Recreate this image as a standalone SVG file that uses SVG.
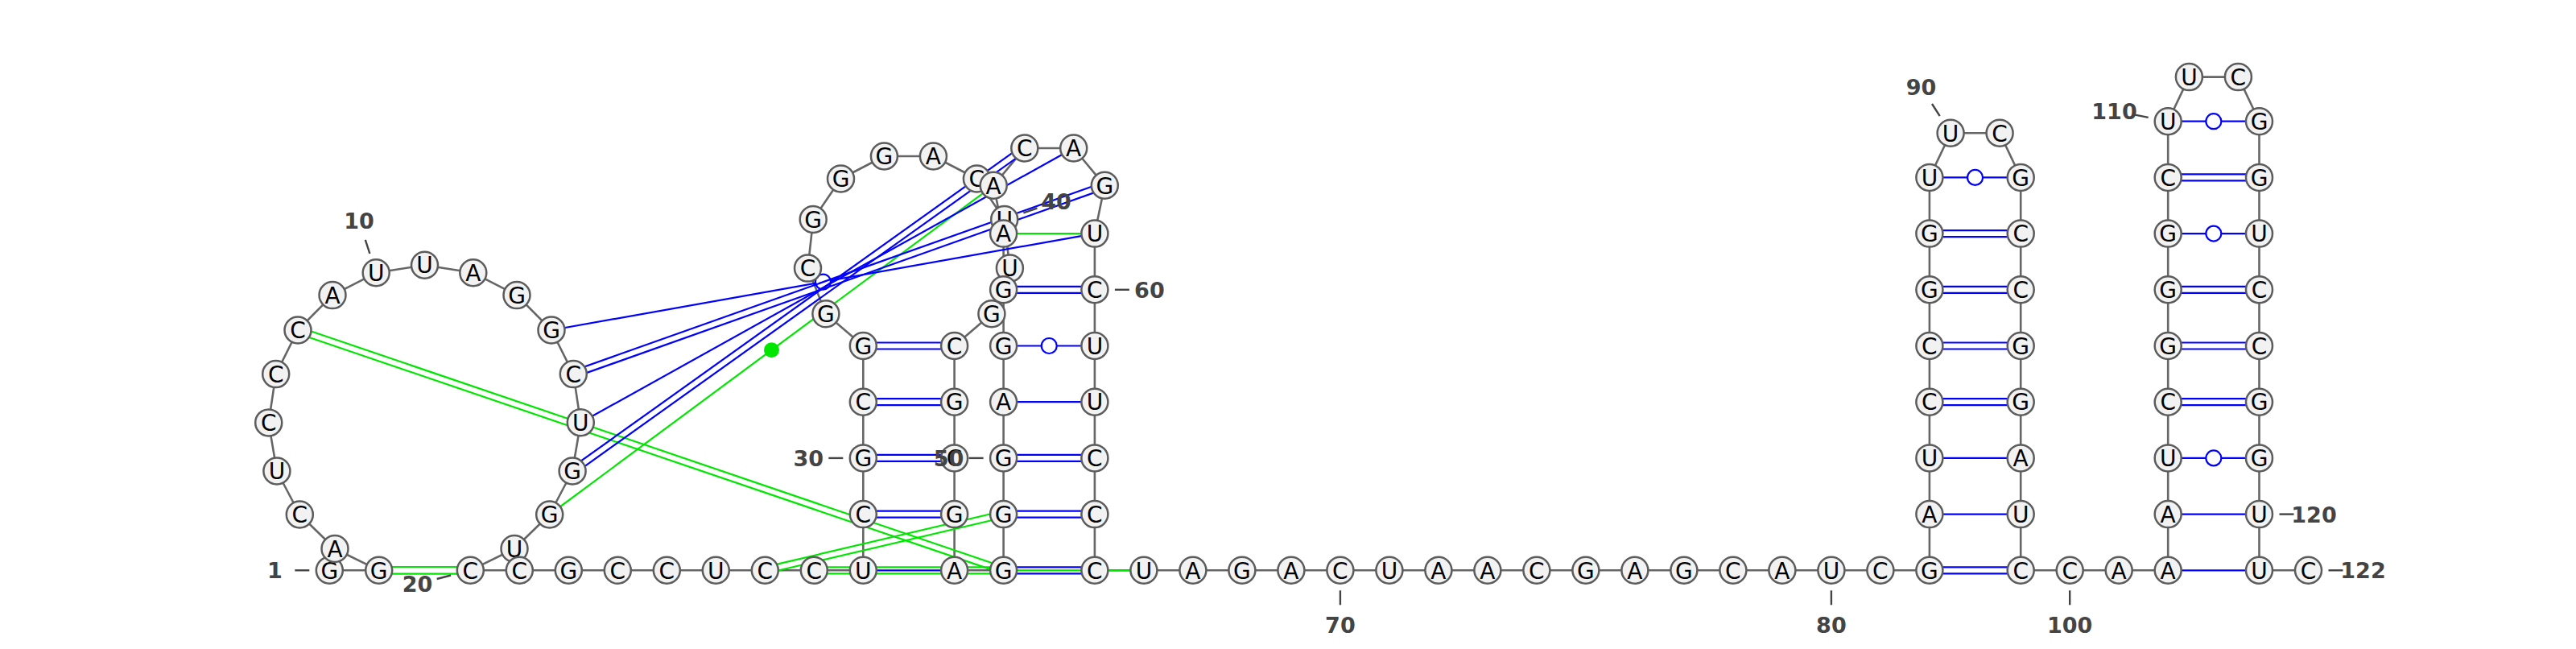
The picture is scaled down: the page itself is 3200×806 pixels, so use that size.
<svg xmlns="http://www.w3.org/2000/svg" width="3200" height="806" viewBox="0 0 3200 806">
<style>
.bb{fill:none;stroke:#666;stroke-width:2.6;stroke-linejoin:round}
.pb{stroke:#0000ff;stroke-width:2.2;fill:none}
.pg{stroke:#00e600;stroke-width:2.2;fill:none}
.wob{fill:#fff;stroke:#0000ff;stroke-width:2.2}
.dot{fill:#00e600}
.n circle{fill:#f2f2f2;stroke:#5c5c5c;stroke-width:2.5}
.n text{font-family:"DejaVu Sans",sans-serif;font-size:28px;text-anchor:middle;fill:#000}
.lab text{font-family:"DejaVu Sans",sans-serif;font-size:27px;font-weight:bold;fill:#444;text-anchor:middle}
.lab line{stroke:#444;stroke-width:2.4}
</style>
<rect width="3200" height="806" fill="#fff"/>
<g id="connectors">
<polyline class="bb" points="409.3,708.3 470.7,708.3 416.0,681.5 372.3,639.0 343.9,585.0 333.7,524.9 342.7,464.6 370.0,410.0 413.0,366.6 467.2,338.8 527.5,329.2 587.8,338.8 642.0,366.6 685.0,410.0 712.3,464.6 721.3,524.8 711.1,585.0 682.7,639.0 639.0,681.5 584.3,708.3 645.3,708.3 706.3,708.3 767.3,708.3 828.3,708.3 889.3,708.3 950.3,708.3 1011.3,708.3 1072.3,708.3 1072.3,638.6 1072.3,568.9 1072.3,499.2 1072.3,429.5 1025.9,389.8 1003.5,333.1 1010.2,272.5 1044.5,222.0 1098.4,194.0 1159.4,194.0 1213.4,222.0 1247.7,272.5 1254.4,333.1 1231.9,389.8 1185.6,429.5 1185.6,499.2 1185.6,568.9 1185.6,638.6 1185.6,708.3 1246.6,708.3 1246.6,638.6 1246.6,568.9 1246.6,499.2 1246.6,429.5 1246.6,359.8 1246.6,290.1 1234.2,230.3 1272.8,184.0 1333.7,184.0 1372.3,230.3 1359.9,290.1 1359.9,359.8 1359.9,429.5 1359.9,499.2 1359.9,568.9 1359.9,638.6 1359.9,708.3 1420.9,708.3 1481.9,708.3 1542.9,708.3 1603.9,708.3 1664.9,708.3 1725.9,708.3 1786.9,708.3 1847.9,708.3 1908.9,708.3 1969.9,708.3 2030.9,708.3 2091.9,708.3 2152.9,708.3 2213.9,708.3 2274.9,708.3 2335.9,708.3 2396.9,708.3 2396.9,638.6 2396.9,568.9 2396.9,499.2 2396.9,429.5 2396.9,359.8 2396.9,290.1 2396.9,220.4 2423.1,165.3 2484.1,165.3 2510.2,220.4 2510.2,290.1 2510.2,359.8 2510.2,429.5 2510.2,499.2 2510.2,568.9 2510.2,638.6 2510.2,708.3 2571.2,708.3 2632.2,708.3 2693.2,708.3 2693.2,638.6 2693.2,568.9 2693.2,499.2 2693.2,429.5 2693.2,359.8 2693.2,290.1 2693.2,220.4 2693.2,150.7 2719.4,95.6 2780.4,95.6 2806.5,150.7 2806.5,220.4 2806.5,290.1 2806.5,359.8 2806.5,429.5 2806.5,499.2 2806.5,568.9 2806.5,638.6 2806.5,708.3 2867.5,708.3"/>
<line class="pg" x1="470.7" y1="704.0" x2="584.3" y2="704.0"/>
<line class="pg" x1="470.7" y1="712.6" x2="584.3" y2="712.6"/>
<line class="pg" x1="368.7" y1="413.8" x2="1245.3" y2="712.1"/>
<line class="pg" x1="371.3" y1="406.2" x2="1247.9" y2="704.5"/>
<line class="pg" x1="951.2" y1="712.2" x2="1247.5" y2="642.5"/>
<line class="pg" x1="949.4" y1="704.4" x2="1245.7" y2="634.7"/>
<line class="pg" x1="1011.3" y1="704.3" x2="1246.6" y2="704.3"/>
<line class="pg" x1="1011.3" y1="712.3" x2="1246.6" y2="712.3"/>
<line class="pg" x1="1246.6" y1="708.3" x2="1420.9" y2="708.3"/>
<line class="pg" x1="1246.6" y1="290.1" x2="1359.9" y2="290.1"/>
<line class="pg" x1="682.7" y1="639.0" x2="1234.2" y2="230.3"/>
<circle class="dot" cx="958.45" cy="434.65" r="9.5"/>
<line class="pb" x1="685.0" y1="410.0" x2="1359.9" y2="290.1"/>
<circle class="wob" cx="1022.45" cy="350.05" r="9.5"/>
<line class="pb" x1="713.6" y1="468.4" x2="1373.6" y2="234.1"/>
<line class="pb" x1="711.0" y1="460.8" x2="1371.0" y2="226.5"/>
<line class="pb" x1="721.3" y1="524.8" x2="1333.7" y2="184.0"/>
<line class="pb" x1="713.4" y1="588.3" x2="1275.1" y2="187.3"/>
<line class="pb" x1="708.8" y1="581.7" x2="1270.5" y2="180.7"/>
<line class="pb" x1="1072.3" y1="708.3" x2="1185.6" y2="708.3"/>
<line class="pb" x1="1072.3" y1="634.6" x2="1185.6" y2="634.6"/>
<line class="pb" x1="1072.3" y1="642.6" x2="1185.6" y2="642.6"/>
<line class="pb" x1="1072.3" y1="564.9" x2="1185.6" y2="564.9"/>
<line class="pb" x1="1072.3" y1="572.9" x2="1185.6" y2="572.9"/>
<line class="pb" x1="1072.3" y1="495.2" x2="1185.6" y2="495.2"/>
<line class="pb" x1="1072.3" y1="503.2" x2="1185.6" y2="503.2"/>
<line class="pb" x1="1072.3" y1="425.5" x2="1185.6" y2="425.5"/>
<line class="pb" x1="1072.3" y1="433.5" x2="1185.6" y2="433.5"/>
<line class="pb" x1="1246.6" y1="704.3" x2="1359.9" y2="704.3"/>
<line class="pb" x1="1246.6" y1="712.3" x2="1359.9" y2="712.3"/>
<line class="pb" x1="1246.6" y1="634.6" x2="1359.9" y2="634.6"/>
<line class="pb" x1="1246.6" y1="642.6" x2="1359.9" y2="642.6"/>
<line class="pb" x1="1246.6" y1="564.9" x2="1359.9" y2="564.9"/>
<line class="pb" x1="1246.6" y1="572.9" x2="1359.9" y2="572.9"/>
<line class="pb" x1="1246.6" y1="499.2" x2="1359.9" y2="499.2"/>
<line class="pb" x1="1246.6" y1="429.5" x2="1359.9" y2="429.5"/>
<circle class="wob" cx="1303.25" cy="429.5" r="9.5"/>
<line class="pb" x1="1246.6" y1="355.8" x2="1359.9" y2="355.8"/>
<line class="pb" x1="1246.6" y1="363.8" x2="1359.9" y2="363.8"/>
<line class="pb" x1="2396.9" y1="704.3" x2="2510.2" y2="704.3"/>
<line class="pb" x1="2396.9" y1="712.3" x2="2510.2" y2="712.3"/>
<line class="pb" x1="2396.9" y1="638.6" x2="2510.2" y2="638.6"/>
<line class="pb" x1="2396.9" y1="568.9" x2="2510.2" y2="568.9"/>
<line class="pb" x1="2396.9" y1="495.2" x2="2510.2" y2="495.2"/>
<line class="pb" x1="2396.9" y1="503.2" x2="2510.2" y2="503.2"/>
<line class="pb" x1="2396.9" y1="425.5" x2="2510.2" y2="425.5"/>
<line class="pb" x1="2396.9" y1="433.5" x2="2510.2" y2="433.5"/>
<line class="pb" x1="2396.9" y1="355.8" x2="2510.2" y2="355.8"/>
<line class="pb" x1="2396.9" y1="363.8" x2="2510.2" y2="363.8"/>
<line class="pb" x1="2396.9" y1="286.1" x2="2510.2" y2="286.1"/>
<line class="pb" x1="2396.9" y1="294.1" x2="2510.2" y2="294.1"/>
<line class="pb" x1="2396.9" y1="220.4" x2="2510.2" y2="220.4"/>
<circle class="wob" cx="2453.55" cy="220.4" r="9.5"/>
<line class="pb" x1="2693.2" y1="708.3" x2="2806.5" y2="708.3"/>
<line class="pb" x1="2693.2" y1="638.6" x2="2806.5" y2="638.6"/>
<line class="pb" x1="2693.2" y1="568.9" x2="2806.5" y2="568.9"/>
<circle class="wob" cx="2749.85" cy="568.9" r="9.5"/>
<line class="pb" x1="2693.2" y1="495.2" x2="2806.5" y2="495.2"/>
<line class="pb" x1="2693.2" y1="503.2" x2="2806.5" y2="503.2"/>
<line class="pb" x1="2693.2" y1="425.5" x2="2806.5" y2="425.5"/>
<line class="pb" x1="2693.2" y1="433.5" x2="2806.5" y2="433.5"/>
<line class="pb" x1="2693.2" y1="355.8" x2="2806.5" y2="355.8"/>
<line class="pb" x1="2693.2" y1="363.8" x2="2806.5" y2="363.8"/>
<line class="pb" x1="2693.2" y1="290.1" x2="2806.5" y2="290.1"/>
<circle class="wob" cx="2749.85" cy="290.1" r="9.5"/>
<line class="pb" x1="2693.2" y1="216.4" x2="2806.5" y2="216.4"/>
<line class="pb" x1="2693.2" y1="224.4" x2="2806.5" y2="224.4"/>
<line class="pb" x1="2693.2" y1="150.7" x2="2806.5" y2="150.7"/>
<circle class="wob" cx="2749.85" cy="150.7" r="9.5"/>
</g>
<g id="nodes">
<g id="n1" class="n"><circle cx="409.3" cy="708.3" r="16.5"/><text x="409.3" y="718.5">G</text></g>
<g id="n2" class="n"><circle cx="470.7" cy="708.3" r="16.5"/><text x="470.7" y="718.5">G</text></g>
<g id="n3" class="n"><circle cx="416.0" cy="681.5" r="16.5"/><text x="416.0" y="691.7">A</text></g>
<g id="n4" class="n"><circle cx="372.3" cy="639.0" r="16.5"/><text x="372.3" y="649.2">C</text></g>
<g id="n5" class="n"><circle cx="343.9" cy="585.0" r="16.5"/><text x="343.9" y="595.2">U</text></g>
<g id="n6" class="n"><circle cx="333.7" cy="524.9" r="16.5"/><text x="333.7" y="535.1">C</text></g>
<g id="n7" class="n"><circle cx="342.7" cy="464.6" r="16.5"/><text x="342.7" y="474.8">C</text></g>
<g id="n8" class="n"><circle cx="370.0" cy="410.0" r="16.5"/><text x="370.0" y="420.2">C</text></g>
<g id="n9" class="n"><circle cx="413.0" cy="366.6" r="16.5"/><text x="413.0" y="376.8">A</text></g>
<g id="n10" class="n"><circle cx="467.2" cy="338.8" r="16.5"/><text x="467.2" y="349.0">U</text></g>
<g id="n11" class="n"><circle cx="527.5" cy="329.2" r="16.5"/><text x="527.5" y="339.4">U</text></g>
<g id="n12" class="n"><circle cx="587.8" cy="338.8" r="16.5"/><text x="587.8" y="349.0">A</text></g>
<g id="n13" class="n"><circle cx="642.0" cy="366.6" r="16.5"/><text x="642.0" y="376.8">G</text></g>
<g id="n14" class="n"><circle cx="685.0" cy="410.0" r="16.5"/><text x="685.0" y="420.2">G</text></g>
<g id="n15" class="n"><circle cx="712.3" cy="464.6" r="16.5"/><text x="712.3" y="474.8">C</text></g>
<g id="n16" class="n"><circle cx="721.3" cy="524.8" r="16.5"/><text x="721.3" y="535.0">U</text></g>
<g id="n17" class="n"><circle cx="711.1" cy="585.0" r="16.5"/><text x="711.1" y="595.2">G</text></g>
<g id="n18" class="n"><circle cx="682.7" cy="639.0" r="16.5"/><text x="682.7" y="649.2">G</text></g>
<g id="n19" class="n"><circle cx="639.0" cy="681.5" r="16.5"/><text x="639.0" y="691.7">U</text></g>
<g id="n20" class="n"><circle cx="584.3" cy="708.3" r="16.5"/><text x="584.3" y="718.5">C</text></g>
<g id="n21" class="n"><circle cx="645.3" cy="708.3" r="16.5"/><text x="645.3" y="718.5">C</text></g>
<g id="n22" class="n"><circle cx="706.3" cy="708.3" r="16.5"/><text x="706.3" y="718.5">G</text></g>
<g id="n23" class="n"><circle cx="767.3" cy="708.3" r="16.5"/><text x="767.3" y="718.5">C</text></g>
<g id="n24" class="n"><circle cx="828.3" cy="708.3" r="16.5"/><text x="828.3" y="718.5">C</text></g>
<g id="n25" class="n"><circle cx="889.3" cy="708.3" r="16.5"/><text x="889.3" y="718.5">U</text></g>
<g id="n26" class="n"><circle cx="950.3" cy="708.3" r="16.5"/><text x="950.3" y="718.5">C</text></g>
<g id="n27" class="n"><circle cx="1011.3" cy="708.3" r="16.5"/><text x="1011.3" y="718.5">C</text></g>
<g id="n28" class="n"><circle cx="1072.3" cy="708.3" r="16.5"/><text x="1072.3" y="718.5">U</text></g>
<g id="n29" class="n"><circle cx="1072.3" cy="638.6" r="16.5"/><text x="1072.3" y="648.8">C</text></g>
<g id="n30" class="n"><circle cx="1072.3" cy="568.9" r="16.5"/><text x="1072.3" y="579.1">G</text></g>
<g id="n31" class="n"><circle cx="1072.3" cy="499.2" r="16.5"/><text x="1072.3" y="509.4">C</text></g>
<g id="n32" class="n"><circle cx="1072.3" cy="429.5" r="16.5"/><text x="1072.3" y="439.7">G</text></g>
<g id="n33" class="n"><circle cx="1025.9" cy="389.8" r="16.5"/><text x="1025.9" y="400.0">G</text></g>
<g id="n34" class="n"><circle cx="1003.5" cy="333.1" r="16.5"/><text x="1003.5" y="343.3">C</text></g>
<g id="n35" class="n"><circle cx="1010.2" cy="272.5" r="16.5"/><text x="1010.2" y="282.7">G</text></g>
<g id="n36" class="n"><circle cx="1044.5" cy="222.0" r="16.5"/><text x="1044.5" y="232.2">G</text></g>
<g id="n37" class="n"><circle cx="1098.4" cy="194.0" r="16.5"/><text x="1098.4" y="204.2">G</text></g>
<g id="n38" class="n"><circle cx="1159.4" cy="194.0" r="16.5"/><text x="1159.4" y="204.2">A</text></g>
<g id="n39" class="n"><circle cx="1213.4" cy="222.0" r="16.5"/><text x="1213.4" y="232.2">C</text></g>
<g id="n40" class="n"><circle cx="1247.7" cy="272.5" r="16.5"/><text x="1247.7" y="282.7">U</text></g>
<g id="n41" class="n"><circle cx="1254.4" cy="333.1" r="16.5"/><text x="1254.4" y="343.3">U</text></g>
<g id="n42" class="n"><circle cx="1231.9" cy="389.8" r="16.5"/><text x="1231.9" y="400.0">G</text></g>
<g id="n43" class="n"><circle cx="1185.6" cy="429.5" r="16.5"/><text x="1185.6" y="439.7">C</text></g>
<g id="n44" class="n"><circle cx="1185.6" cy="499.2" r="16.5"/><text x="1185.6" y="509.4">G</text></g>
<g id="n45" class="n"><circle cx="1185.6" cy="568.9" r="16.5"/><text x="1185.6" y="579.1">C</text></g>
<g id="n46" class="n"><circle cx="1185.6" cy="638.6" r="16.5"/><text x="1185.6" y="648.8">G</text></g>
<g id="n47" class="n"><circle cx="1185.6" cy="708.3" r="16.5"/><text x="1185.6" y="718.5">A</text></g>
<g id="n48" class="n"><circle cx="1246.6" cy="708.3" r="16.5"/><text x="1246.6" y="718.5">G</text></g>
<g id="n49" class="n"><circle cx="1246.6" cy="638.6" r="16.5"/><text x="1246.6" y="648.8">G</text></g>
<g id="n50" class="n"><circle cx="1246.6" cy="568.9" r="16.5"/><text x="1246.6" y="579.1">G</text></g>
<g id="n51" class="n"><circle cx="1246.6" cy="499.2" r="16.5"/><text x="1246.6" y="509.4">A</text></g>
<g id="n52" class="n"><circle cx="1246.6" cy="429.5" r="16.5"/><text x="1246.6" y="439.7">G</text></g>
<g id="n53" class="n"><circle cx="1246.6" cy="359.8" r="16.5"/><text x="1246.6" y="370.0">G</text></g>
<g id="n54" class="n"><circle cx="1246.6" cy="290.1" r="16.5"/><text x="1246.6" y="300.3">A</text></g>
<g id="n55" class="n"><circle cx="1234.2" cy="230.3" r="16.5"/><text x="1234.2" y="240.5">A</text></g>
<g id="n56" class="n"><circle cx="1272.8" cy="184.0" r="16.5"/><text x="1272.8" y="194.2">C</text></g>
<g id="n57" class="n"><circle cx="1333.7" cy="184.0" r="16.5"/><text x="1333.7" y="194.2">A</text></g>
<g id="n58" class="n"><circle cx="1372.3" cy="230.3" r="16.5"/><text x="1372.3" y="240.5">G</text></g>
<g id="n59" class="n"><circle cx="1359.9" cy="290.1" r="16.5"/><text x="1359.9" y="300.3">U</text></g>
<g id="n60" class="n"><circle cx="1359.9" cy="359.8" r="16.5"/><text x="1359.9" y="370.0">C</text></g>
<g id="n61" class="n"><circle cx="1359.9" cy="429.5" r="16.5"/><text x="1359.9" y="439.7">U</text></g>
<g id="n62" class="n"><circle cx="1359.9" cy="499.2" r="16.5"/><text x="1359.9" y="509.4">U</text></g>
<g id="n63" class="n"><circle cx="1359.9" cy="568.9" r="16.5"/><text x="1359.9" y="579.1">C</text></g>
<g id="n64" class="n"><circle cx="1359.9" cy="638.6" r="16.5"/><text x="1359.9" y="648.8">C</text></g>
<g id="n65" class="n"><circle cx="1359.9" cy="708.3" r="16.5"/><text x="1359.9" y="718.5">C</text></g>
<g id="n66" class="n"><circle cx="1420.9" cy="708.3" r="16.5"/><text x="1420.9" y="718.5">U</text></g>
<g id="n67" class="n"><circle cx="1481.9" cy="708.3" r="16.5"/><text x="1481.9" y="718.5">A</text></g>
<g id="n68" class="n"><circle cx="1542.9" cy="708.3" r="16.5"/><text x="1542.9" y="718.5">G</text></g>
<g id="n69" class="n"><circle cx="1603.9" cy="708.3" r="16.5"/><text x="1603.9" y="718.5">A</text></g>
<g id="n70" class="n"><circle cx="1664.9" cy="708.3" r="16.5"/><text x="1664.9" y="718.5">C</text></g>
<g id="n71" class="n"><circle cx="1725.9" cy="708.3" r="16.5"/><text x="1725.9" y="718.5">U</text></g>
<g id="n72" class="n"><circle cx="1786.9" cy="708.3" r="16.5"/><text x="1786.9" y="718.5">A</text></g>
<g id="n73" class="n"><circle cx="1847.9" cy="708.3" r="16.5"/><text x="1847.9" y="718.5">A</text></g>
<g id="n74" class="n"><circle cx="1908.9" cy="708.3" r="16.5"/><text x="1908.9" y="718.5">C</text></g>
<g id="n75" class="n"><circle cx="1969.9" cy="708.3" r="16.5"/><text x="1969.9" y="718.5">G</text></g>
<g id="n76" class="n"><circle cx="2030.9" cy="708.3" r="16.5"/><text x="2030.9" y="718.5">A</text></g>
<g id="n77" class="n"><circle cx="2091.9" cy="708.3" r="16.5"/><text x="2091.9" y="718.5">G</text></g>
<g id="n78" class="n"><circle cx="2152.9" cy="708.3" r="16.5"/><text x="2152.9" y="718.5">C</text></g>
<g id="n79" class="n"><circle cx="2213.9" cy="708.3" r="16.5"/><text x="2213.9" y="718.5">A</text></g>
<g id="n80" class="n"><circle cx="2274.9" cy="708.3" r="16.5"/><text x="2274.9" y="718.5">U</text></g>
<g id="n81" class="n"><circle cx="2335.9" cy="708.3" r="16.5"/><text x="2335.9" y="718.5">C</text></g>
<g id="n82" class="n"><circle cx="2396.9" cy="708.3" r="16.5"/><text x="2396.9" y="718.5">G</text></g>
<g id="n83" class="n"><circle cx="2396.9" cy="638.6" r="16.5"/><text x="2396.9" y="648.8">A</text></g>
<g id="n84" class="n"><circle cx="2396.9" cy="568.9" r="16.5"/><text x="2396.9" y="579.1">U</text></g>
<g id="n85" class="n"><circle cx="2396.9" cy="499.2" r="16.5"/><text x="2396.9" y="509.4">C</text></g>
<g id="n86" class="n"><circle cx="2396.9" cy="429.5" r="16.5"/><text x="2396.9" y="439.7">C</text></g>
<g id="n87" class="n"><circle cx="2396.9" cy="359.8" r="16.5"/><text x="2396.9" y="370.0">G</text></g>
<g id="n88" class="n"><circle cx="2396.9" cy="290.1" r="16.5"/><text x="2396.9" y="300.3">G</text></g>
<g id="n89" class="n"><circle cx="2396.9" cy="220.4" r="16.5"/><text x="2396.9" y="230.6">U</text></g>
<g id="n90" class="n"><circle cx="2423.1" cy="165.3" r="16.5"/><text x="2423.1" y="175.5">U</text></g>
<g id="n91" class="n"><circle cx="2484.1" cy="165.3" r="16.5"/><text x="2484.1" y="175.5">C</text></g>
<g id="n92" class="n"><circle cx="2510.2" cy="220.4" r="16.5"/><text x="2510.2" y="230.6">G</text></g>
<g id="n93" class="n"><circle cx="2510.2" cy="290.1" r="16.5"/><text x="2510.2" y="300.3">C</text></g>
<g id="n94" class="n"><circle cx="2510.2" cy="359.8" r="16.5"/><text x="2510.2" y="370.0">C</text></g>
<g id="n95" class="n"><circle cx="2510.2" cy="429.5" r="16.5"/><text x="2510.2" y="439.7">G</text></g>
<g id="n96" class="n"><circle cx="2510.2" cy="499.2" r="16.5"/><text x="2510.2" y="509.4">G</text></g>
<g id="n97" class="n"><circle cx="2510.2" cy="568.9" r="16.5"/><text x="2510.2" y="579.1">A</text></g>
<g id="n98" class="n"><circle cx="2510.2" cy="638.6" r="16.5"/><text x="2510.2" y="648.8">U</text></g>
<g id="n99" class="n"><circle cx="2510.2" cy="708.3" r="16.5"/><text x="2510.2" y="718.5">C</text></g>
<g id="n100" class="n"><circle cx="2571.2" cy="708.3" r="16.5"/><text x="2571.2" y="718.5">C</text></g>
<g id="n101" class="n"><circle cx="2632.2" cy="708.3" r="16.5"/><text x="2632.2" y="718.5">A</text></g>
<g id="n102" class="n"><circle cx="2693.2" cy="708.3" r="16.5"/><text x="2693.2" y="718.5">A</text></g>
<g id="n103" class="n"><circle cx="2693.2" cy="638.6" r="16.5"/><text x="2693.2" y="648.8">A</text></g>
<g id="n104" class="n"><circle cx="2693.2" cy="568.9" r="16.5"/><text x="2693.2" y="579.1">U</text></g>
<g id="n105" class="n"><circle cx="2693.2" cy="499.2" r="16.5"/><text x="2693.2" y="509.4">C</text></g>
<g id="n106" class="n"><circle cx="2693.2" cy="429.5" r="16.5"/><text x="2693.2" y="439.7">G</text></g>
<g id="n107" class="n"><circle cx="2693.2" cy="359.8" r="16.5"/><text x="2693.2" y="370.0">G</text></g>
<g id="n108" class="n"><circle cx="2693.2" cy="290.1" r="16.5"/><text x="2693.2" y="300.3">G</text></g>
<g id="n109" class="n"><circle cx="2693.2" cy="220.4" r="16.5"/><text x="2693.2" y="230.6">C</text></g>
<g id="n110" class="n"><circle cx="2693.2" cy="150.7" r="16.5"/><text x="2693.2" y="160.9">U</text></g>
<g id="n111" class="n"><circle cx="2719.4" cy="95.6" r="16.5"/><text x="2719.4" y="105.8">U</text></g>
<g id="n112" class="n"><circle cx="2780.4" cy="95.6" r="16.5"/><text x="2780.4" y="105.8">C</text></g>
<g id="n113" class="n"><circle cx="2806.5" cy="150.7" r="16.5"/><text x="2806.5" y="160.9">G</text></g>
<g id="n114" class="n"><circle cx="2806.5" cy="220.4" r="16.5"/><text x="2806.5" y="230.6">G</text></g>
<g id="n115" class="n"><circle cx="2806.5" cy="290.1" r="16.5"/><text x="2806.5" y="300.3">U</text></g>
<g id="n116" class="n"><circle cx="2806.5" cy="359.8" r="16.5"/><text x="2806.5" y="370.0">C</text></g>
<g id="n117" class="n"><circle cx="2806.5" cy="429.5" r="16.5"/><text x="2806.5" y="439.7">C</text></g>
<g id="n118" class="n"><circle cx="2806.5" cy="499.2" r="16.5"/><text x="2806.5" y="509.4">G</text></g>
<g id="n119" class="n"><circle cx="2806.5" cy="568.9" r="16.5"/><text x="2806.5" y="579.1">G</text></g>
<g id="n120" class="n"><circle cx="2806.5" cy="638.6" r="16.5"/><text x="2806.5" y="648.8">U</text></g>
<g id="n121" class="n"><circle cx="2806.5" cy="708.3" r="16.5"/><text x="2806.5" y="718.5">U</text></g>
<g id="n122" class="n"><circle cx="2867.5" cy="708.3" r="16.5"/><text x="2867.5" y="718.5">C</text></g>
</g>
<g id="labels" class="lab">
<line x1="366.3" y1="708.3" x2="384.3" y2="708.3"/><text x="341.3" y="718.3">1</text>
<line x1="459.4" y1="315.0" x2="453.8" y2="297.9"/><text x="446.1" y="284.2">10</text>
<line x1="560.1" y1="714.5" x2="542.7" y2="719.0"/><text x="518.5" y="735.2">20</text>
<line x1="1047.3" y1="568.9" x2="1029.3" y2="568.9"/><text x="1004.3" y="578.9">30</text>
<line x1="1271.4" y1="264.3" x2="1288.4" y2="258.5"/><text x="1312.0" y="260.3">40</text>
<line x1="1221.6" y1="568.9" x2="1203.6" y2="568.9"/><text x="1178.6" y="578.9">50</text>
<line x1="1384.9" y1="359.8" x2="1402.9" y2="359.8"/><text x="1427.9" y="369.8">60</text>
<line x1="1664.9" y1="733.3" x2="1664.9" y2="751.3"/><text x="1664.9" y="786.3">70</text>
<line x1="2274.9" y1="733.3" x2="2274.9" y2="751.3"/><text x="2274.9" y="786.3">80</text>
<line x1="2409.7" y1="144.2" x2="2400.0" y2="129.0"/><text x="2386.6" y="117.8">90</text>
<line x1="2571.2" y1="733.3" x2="2571.2" y2="751.3"/><text x="2571.2" y="786.3">100</text>
<line x1="2668.7" y1="145.9" x2="2651.0" y2="142.4"/><text x="2626.5" y="147.6">110</text>
<line x1="2831.5" y1="638.6" x2="2849.5" y2="638.6"/><text x="2874.5" y="648.6">120</text>
<line x1="2892.5" y1="708.3" x2="2910.5" y2="708.3"/><text x="2935.5" y="718.3">122</text>
</g>
</svg>
